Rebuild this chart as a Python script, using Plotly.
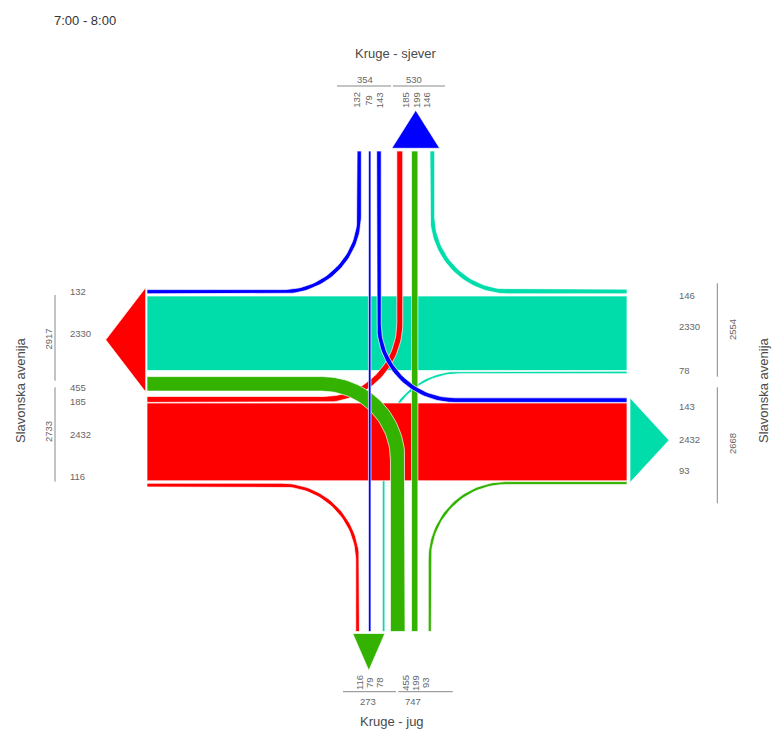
import numpy as np
import plotly.graph_objects as go

# ---------------- DATA ----------------
TITLE = "7:00 - 8:00"
ARM_NORTH = "Kruge - sjever"
ARM_SOUTH = "Kruge - jug"
ARM_EW = "Slavonska avenija"

# entering volumes per origin arm
north_in = [132, 79, 143]    # -> west (right), south (straight), east (left)
west_in = [185, 2432, 116]   # -> north (left), east (straight), south (right)
south_in = [455, 199, 93]    # -> west (left), north (straight), east (right)
east_in = [146, 2330, 78]    # -> north (right), west (straight), south (left)

COL_N = "#0000ff"
COL_W = "#ff0000"
COL_S = "#33b300"
COL_E = "#00dcaa"

# ---------------- GEOMETRY (pixel space) ----------------
S = 0.032          # px per vehicle
R = 76.0           # turning radius
X_W, X_E = 147.0, 627.0
Y_N, Y_S = 151.0, 631.5


def w(v):
    return v * S


n_r, n_s, n_l = north_in
w_l, w_s, w_r = west_in
s_l, s_s, s_r = south_in
e_r, e_s, e_l = east_in

TOP_E = 296.0   # top of east->west straight band
TOP_W = 403.0   # top of west->east straight band
y_es = TOP_E + w(e_s) / 2
y_nr = TOP_E - 2.2 - w(n_r) / 2
y_sl = TOP_E + w(e_s) + 6.0 + w(s_l) / 2
y_er = TOP_E - 2.2 - w(e_r) / 2
y_el = TOP_E + w(e_s) + 0.6 + w(e_l) / 2
y_ws = TOP_W + w(w_s) / 2
y_wl = TOP_W - 0.6 - w(w_l) / 2
y_wr = TOP_W + w(w_s) + 2.4 + w(w_r) / 2
y_nl = TOP_W - 0.6 - w(n_l) / 2
y_sr = TOP_W + w(w_s) + 0.8 + w(s_r) / 2

x_ns = 369.7
x_ss = 414.7
x_nr = x_ns - w(n_s) / 2 - 7.1 - w(n_r) / 2
x_nl = x_ns + w(n_s) / 2 + 5.7 + w(n_l) / 2
x_wl = x_ss - w(s_s) / 2 - 8.8 - w(w_l) / 2
x_er = x_ss + w(s_s) / 2 + 12.1 + w(e_r) / 2
x_wr = x_ns - w(n_s) / 2 - 9.0 - w(w_r) / 2
x_el = x_ns + w(n_s) / 2 + 11.4 + w(e_l) / 2
x_sl = x_ss - w(s_s) / 2 - 6.5 - w(s_l) / 2
x_sr = x_ss + w(s_s) / 2 + 10.4 + w(s_r) / 2


def band(start, corner, end, width):
    """polygon for a straight or single-turn band along centreline"""
    start, end = np.array(start, float), np.array(end, float)
    pts, tans = [], []
    if corner is None:
        d = (end - start) / np.linalg.norm(end - start)
        pts = [start, end]
        tans = [d, d]
    else:
        c = np.array(corner, float)
        d1 = (c - start) / np.linalg.norm(c - start)
        d2 = (end - c) / np.linalg.norm(end - c)
        pts.append(start); tans.append(d1)
        ctr = c - R * d1 + R * d2
        for th in np.linspace(0, np.pi / 2, 40):
            pts.append(ctr + R * (-d2 * np.cos(th) + d1 * np.sin(th)))
            tans.append(d2 * np.sin(th) + d1 * np.cos(th))
        pts.append(end); tans.append(d2)
    pts, tans = np.array(pts), np.array(tans)
    nrm = np.stack([-tans[:, 1], tans[:, 0]], axis=1)
    left = pts + nrm * width / 2
    right = pts - nrm * width / 2
    poly = np.vstack([left, right[::-1], left[:1]])
    return poly[:, 0], poly[:, 1]


fig = go.Figure()


def add_band(start, corner, end, vol, col):
    xs, ys = band(start, corner, end, w(vol))
    fig.add_trace(go.Scatter(x=xs, y=ys, mode="lines", fill="toself",
                             fillcolor=col, line=dict(color="white", width=0.7),
                             hoverinfo="skip", showlegend=False))


# east origin (teal)
add_band((X_E, y_er), (x_er, y_er), (x_er, Y_N), e_r, COL_E)
add_band((X_E, y_es), None, (X_W, y_es), e_s, COL_E)
add_band((X_E, y_el), (x_el, y_el), (x_el, Y_S), e_l, COL_E)
# west origin (red)
add_band((X_W, y_wl), (x_wl, y_wl), (x_wl, Y_N), w_l, COL_W)
add_band((X_W, y_ws), None, (X_E, y_ws), w_s, COL_W)
add_band((X_W, y_wr), (x_wr, y_wr), (x_wr, Y_S), w_r, COL_W)
# south origin (green)
add_band((x_sl, Y_S), (x_sl, y_sl), (X_W, y_sl), s_l, COL_S)
add_band((x_ss, Y_S), None, (x_ss, Y_N), s_s, COL_S)
add_band((x_sr, Y_S), (x_sr, y_sr), (X_E, y_sr), s_r, COL_S)
# north origin (blue)
add_band((x_nr, Y_N), (x_nr, y_nr), (X_W, y_nr), n_r, COL_N)
add_band((x_ns, Y_N), None, (x_ns, Y_S), n_s, COL_N)
add_band((x_nl, Y_N), (x_nl, y_nl), (X_E, y_nl), n_l, COL_N)


def add_tri(xs, ys, col):
    fig.add_trace(go.Scatter(x=xs + [xs[0]], y=ys + [ys[0]], mode="lines",
                             fill="toself", fillcolor=col,
                             line=dict(color="white", width=0.7),
                             hoverinfo="skip", showlegend=False))


AL = 38.0
# north exit arrow
a0 = x_wl - w(w_l) / 2 - 5
a1 = x_er + w(e_r) / 2 + 5
yb = Y_N - 2.7
add_tri([a0, a1, (a0 + a1) / 2], [yb, yb, yb - AL], COL_N)
# west exit arrow
b0 = y_nr - w(n_r) / 2 - 2
b1 = y_sl + w(s_l) / 2 + 1
xb = X_W - 1.3
add_tri([xb, xb, xb - 40], [b0, b1, (b0 + b1) / 2], COL_W)
# east exit arrow
c0 = y_nl - w(n_l) / 2
c1 = y_sr + w(s_r) / 2 - 2
xb = X_E + 3
add_tri([xb, xb, xb + 39], [c0, c1, (c0 + c1) / 2], COL_E)
# south exit arrow
d0 = x_wr - w(w_r) / 2 - 3
d1 = x_el + w(e_l) / 2
yb = Y_S + 2
add_tri([d0, d1, (d0 + d1) / 2], [yb, yb, yb + 37], COL_S)

# ---------------- TEXT ----------------
FONT = "Liberation Sans, Arial, sans-serif"
LBL = dict(family=FONT, size=9.5, color="#666666")
ann = []


def txt(x, y, s, font=LBL, angle=0, xanchor="center"):
    ann.append(dict(x=x, y=y, xref="x", yref="y", text=str(s), showarrow=False,
                    font=font, textangle=angle, xanchor=xanchor, yanchor="middle"))


txt(52, 20, TITLE, dict(family=FONT, size=13, color="#333333"), xanchor="left")
ROAD = dict(family=FONT, size=13, color="#4a4a4a")
txt(396, 53, ARM_NORTH, ROAD)
txt(392, 721, ARM_SOUTH, ROAD)
txt(20, 390, ARM_EW, ROAD, angle=-90)
txt(763, 390, ARM_EW, ROAD, angle=-90)

# north labels
for x, v in zip([355.7, 367.7, 379.3], north_in):
    txt(x, 100, v, angle=-90)
for x, v in zip([405, 416, 426], [w_l, s_s, e_r]):
    txt(x, 100, v, angle=-90)
txt(365, 79, sum(north_in))
txt(414, 79, w_l + s_s + e_r)
# south labels
for x, v in zip([359, 369, 379], [w_r, n_s, e_l]):
    txt(x, 683, v, angle=-90)
for x, v in zip([404.7, 415, 425], south_in):
    txt(x, 683, v, angle=-90)
txt(368, 701, w_r + n_s + e_l)
txt(413, 701, sum(south_in))
# west labels
for y, v in zip([291.7, 333.3, 387.7], [n_r, e_s, s_l]):
    txt(68, y, v, xanchor="left")
for y, v in zip([401.7, 434, 476.7], west_in):
    txt(68, y, v, xanchor="left")
txt(48.3, 339.3, n_r + e_s + s_l, angle=-90)
txt(48.3, 431.7, sum(west_in), angle=-90)
# east labels
for y, v in zip([295, 326.7, 370], east_in):
    txt(677, y, v, xanchor="left")
for y, v in zip([406.7, 439.3, 470.7], [n_l, w_s, s_r]):
    txt(677, y, v, xanchor="left")
txt(732.7, 329.3, sum(east_in), angle=-90)
txt(732.7, 443.3, n_l + w_s + s_r, angle=-90)

LINE = dict(color="#888888", width=1)
shapes = []
for (x0, y0, x1, y1) in [(337, 86, 391, 86), (393, 86, 445, 86),
                         (343, 691.7, 396, 691.7), (398.3, 691.7, 452.7, 691.7),
                         (55, 295, 55, 380.7), (55, 387.3, 55, 481.7),
                         (717.3, 283.3, 717.3, 376.7), (717.3, 387.3, 717.3, 503.3)]:
    shapes.append(dict(type="line", x0=x0, y0=y0, x1=x1, y1=y1, xref="x", yref="y", line=LINE))

fig.update_layout(
    width=774, height=733, margin=dict(l=0, r=0, t=0, b=0),
    paper_bgcolor="white", plot_bgcolor="white",
    xaxis=dict(range=[0, 774], visible=False, fixedrange=True),
    yaxis=dict(range=[733, 0], visible=False, fixedrange=True),
    annotations=ann, shapes=shapes, showlegend=False,
)

fig.write_html("out.html", config={"displayModeBar": False},
               post_script="document.body.style.margin='0';document.body.style.overflow='hidden';")
